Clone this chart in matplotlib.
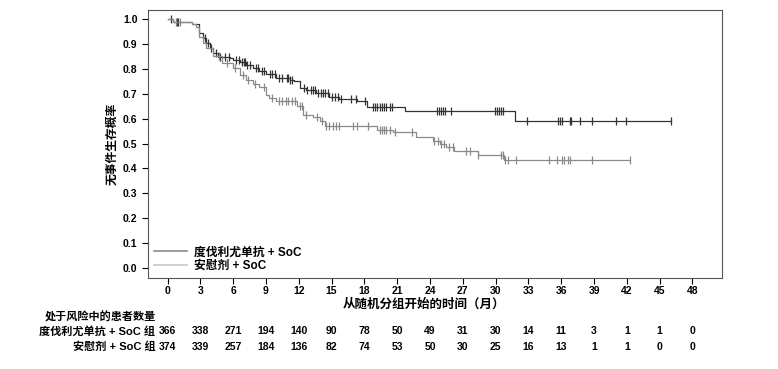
import numpy as np
import matplotlib.pyplot as plt
from matplotlib import transforms
from matplotlib.lines import Line2D

plt.rcParams['font.family'] = ['Liberation Sans', 'Noto Sans CJK SC', 'DejaVu Sans']
plt.rcParams['font.weight'] = 'bold'

# =============================
# DATA
# =============================

# step curve of each arm: time (months) and survival after that time
durva_t = [0, 0.5, 2.2, 2.9, 3.2, 3.5, 3.9, 4.2, 4.6, 5.7, 6.0, 6.6, 7.2, 7.8, 8.4, 9.0,
           9.9, 11.2, 11.6, 12.1, 12.7, 13.6, 14.8, 15.7, 17.3, 18.2, 21.7, 31.8, 46.0]
durva_s = [1.0, 0.99, 0.981, 0.944, 0.925, 0.904, 0.885, 0.863, 0.847, 0.845, 0.837, 0.826,
           0.816, 0.803, 0.79, 0.778, 0.763, 0.756, 0.75, 0.723, 0.716, 0.705, 0.689, 0.679,
           0.669, 0.645, 0.629, 0.589, 0.589]

pbo_t = [0, 0.5, 2.2, 2.6, 2.9, 3.2, 3.5, 4.2, 5.0, 6.0, 6.6, 7.2, 7.8, 8.4, 9.0, 9.3, 9.9,
         11.2, 11.8, 12.4, 13.3, 13.9, 14.4, 18.2, 19.2, 20.6, 22.7, 24.3, 24.9, 25.5, 26.2,
         28.4, 30.8, 42.3]
pbo_s = [1.0, 0.99, 0.981, 0.97, 0.93, 0.905, 0.883, 0.85, 0.823, 0.803, 0.776, 0.756, 0.74,
         0.727, 0.696, 0.683, 0.673, 0.669, 0.649, 0.616, 0.606, 0.589, 0.571, 0.57, 0.555,
         0.546, 0.526, 0.512, 0.498, 0.485, 0.472, 0.455, 0.432, 0.432]

# censoring times (months)
durva_cens = [0.3, 0.9, 1.0, 3.4, 3.7, 4.0, 4.4, 4.8, 5.3, 5.6, 6.3, 6.5, 6.8, 7.0, 7.1, 7.3,
              7.5, 8.1, 8.3, 8.6, 8.8, 9.4, 9.6, 9.8, 10.2, 10.5, 10.9, 11.0, 11.2, 11.4,
              12.5, 12.8, 13.1, 13.3, 13.5, 13.8, 14.0, 14.2, 14.4, 14.7, 15.0, 15.3, 15.6,
              15.9, 16.8, 17.2, 18.1, 18.8, 19.0, 19.2, 19.4, 19.6, 19.8, 20.0, 20.3, 20.5,
              24.6, 24.8, 25.0, 25.2, 25.4, 25.96, 29.9, 30.1, 30.3, 30.5, 30.7, 32.9, 35.7,
              35.9, 36.1, 36.8, 36.9, 37.7, 38.8, 41.0, 41.9, 46.0]
pbo_cens = [0.8, 1.1, 4.7, 5.4, 6.2, 6.9, 7.4, 8.0, 8.8, 9.6, 10.2, 10.5, 10.8, 11.0, 11.4,
            11.7, 12.1, 12.3, 12.7, 13.7, 14.1, 14.5, 14.8, 15.1, 15.4, 15.7, 17.0, 17.3,
            18.3, 19.4, 19.6, 19.8, 20.0, 20.3, 20.8, 22.4, 24.4, 24.7, 25.0, 25.3, 25.7,
            26.1, 27.3, 27.7, 28.4, 30.5, 30.7, 30.9, 31.1, 31.9, 34.9, 35.6, 36.1, 36.3,
            36.6, 36.8, 38.8, 42.3]

time_ticks = [0, 3, 6, 9, 12, 15, 18, 21, 24, 27, 30, 33, 36, 39, 42, 45, 48]
risk_durva = [366, 338, 271, 194, 140, 90, 78, 50, 49, 31, 30, 14, 11, 3, 1, 1, 0]
risk_pbo = [374, 339, 257, 184, 136, 82, 74, 53, 50, 30, 25, 16, 13, 1, 1, 0, 0]

label_durva = "度伐利尤单抗 + SoC"
label_pbo = "安慰剂 + SoC"

# =============================
# PLOT
# =============================

DARK = "#333333"
GRAY = "#8a8a8a"

fig = plt.figure(figsize=(7.78, 3.69), dpi=100)
ax = fig.add_axes([0.190, 0.247, 0.738, 0.726])

def km_value(times, surv, t):
    idx = np.searchsorted(times, t, side="right") - 1
    return np.asarray(surv)[idx]

for t, s, cens, col in [(durva_t, durva_s, durva_cens, DARK),
                        (pbo_t, pbo_s, pbo_cens, GRAY)]:
    ax.step(t, s, where="post", color=col, lw=0.9)
    ax.plot(cens, km_value(t, s, cens), ls="none", marker="|", ms=5.5, mew=0.9, color=col)

ax.set_xlim(-1.8, 50.7)
ax.set_ylim(-0.04, 1.037)
ax.set_xticks(time_ticks)
ax.set_yticks(np.arange(0, 1.01, 0.1))
ax.set_yticklabels([f"{v:.1f}" for v in np.arange(0, 1.01, 0.1)])
ax.tick_params(labelsize=7.5, length=4, width=0.8, direction="out")
ax.tick_params(axis="x", pad=2)
for sp in ax.spines.values():
    sp.set_color("#555555")
    sp.set_linewidth(0.8)

ax.set_ylabel("无事件生存概率", fontsize=8.5, fontweight="bold", labelpad=3)

# legend lines look lighter than the curves in the reference
handles = [Line2D([], [], color="#8c8c8c", lw=1.2), Line2D([], [], color="#c8c8c8", lw=1.2)]
ax.legend(handles, [label_durva, label_pbo], loc="lower left", frameon=False,
          fontsize=8.5, handlelength=2.8, borderaxespad=0.1, labelspacing=0.12,
          handletextpad=0.6)

fig.text(424 / 778, 1 - 305 / 369, "从随机分组开始的时间（月）", ha="center", va="center",
         fontsize=9, fontweight="bold")

# risk table
fig.text(45 / 778, 1 - 317 / 369, "处于风险中的患者数量", ha="left", va="center",
         fontsize=8, fontweight="bold")
trans = transforms.blended_transform_factory(ax.transData, fig.transFigure)
for row_y, name, counts in [(1 - 331 / 369, label_durva + " 组", risk_durva),
                            (1 - 347 / 369, label_pbo + " 组", risk_pbo)]:
    ax.text(-1.1, row_y, name, transform=trans, ha="right", va="center",
            fontsize=8, fontweight="bold", clip_on=False)
    for x, n in zip(time_ticks, counts):
        ax.text(x, row_y, str(n), transform=trans, ha="center", va="center",
                fontsize=7.5, fontweight="bold", clip_on=False)

fig.savefig("out.png", dpi=100)
